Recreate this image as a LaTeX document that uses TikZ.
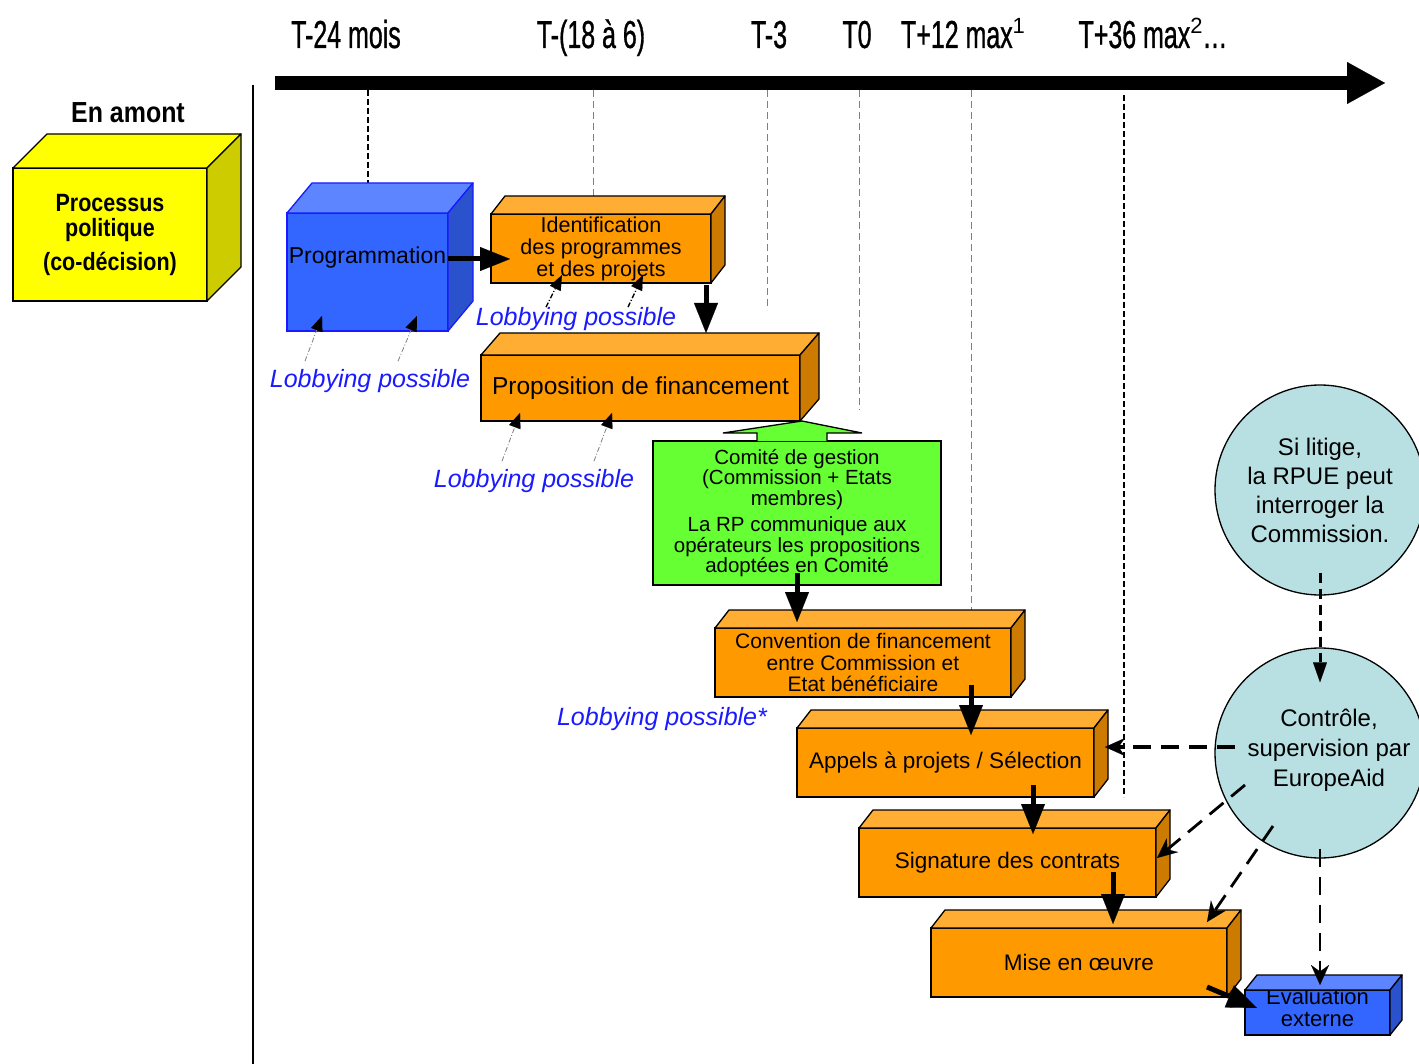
\documentclass[tikz,border=0pt]{standalone}
\usepackage{fontspec}
\setmainfont{Liberation Sans}
\newfontfamily\narrowfont[FakeStretch=0.64,FakeBold=0.8]{Liberation Sans}
\newfontfamily\narrowboldfont[FakeStretch=0.86]{Liberation Sans}
\usetikzlibrary{arrows.meta,calc}
\definecolor{orfront}{HTML}{FF9900}
\definecolor{ortop}{HTML}{FFAD33}
\definecolor{orside}{HTML}{CC7A00}
\definecolor{blfront}{HTML}{3366FF}
\definecolor{bltop}{HTML}{5C85FF}
\definecolor{blside}{HTML}{2952CC}
\definecolor{blborder}{HTML}{1A1AFF}
\definecolor{yfront}{HTML}{FFFF00}
\definecolor{yside}{HTML}{CCCC00}
\definecolor{grn}{HTML}{66FF33}
\definecolor{circfill}{HTML}{B8E0E3}
\definecolor{lobblue}{HTML}{1A1AFF}
\newcommand{\boxfaces}[6]{%
 \filldraw[fill=#4,draw=#6,line width=1.3pt,line join=round] (#1.north west) -- ([shift={(#2,#3)}]#1.north west) -- ([shift={(#2,#3)}]#1.north east) -- (#1.north east) -- cycle;
 \filldraw[fill=#5,draw=#6,line width=1.3pt,line join=round] (#1.north east) -- ([shift={(#2,#3)}]#1.north east) -- ([shift={(#2,#3)}]#1.south east) -- (#1.south east) -- cycle;
}
\tikzset{
 face/.style={draw=black, line width=1.3pt, inner sep=0pt, outer sep=0pt, align=center},
 orbox/.style={face, fill=orfront, font=\fontsize{22.5}{23}\selectfont},
 tl/.style={font=\narrowfont\fontsize{39}{40}\selectfont, inner sep=0pt, anchor=base},
 lobby/.style={text=lobblue, font=\itshape\fontsize{25}{27}\selectfont, inner sep=0pt},
 bigarrow/.style={line width=5pt, -{Triangle[length=30pt,width=24pt,line width=0.1pt]}},
 lobarrow/.style={gray, line width=0.8pt, dash pattern=on 5pt off 2pt on 1pt off 2pt, -{Triangle[length=15pt,width=12pt,color=black,line width=0.1pt]}},
 lobarrowdark/.style={black, line width=1.4pt, dash pattern=on 5pt off 2pt on 1pt off 2pt, -{Triangle[length=15pt,width=12pt,line width=0.1pt]}},
 tick/.style={gray, line width=0.9pt, dash pattern=on 7pt off 4pt},
 tickbold/.style={black, line width=1.8pt, dash pattern=on 6pt off 3pt},
 ctrlarrow/.style={line width=4pt, dash pattern=on 18pt off 10pt, -{Stealth[length=20pt,width=18pt,line width=0.1pt]}},
 circ/.style={circle, draw=black, line width=1.3pt, fill=circfill, minimum size=210pt, inner sep=0pt, align=center, font=\fontsize{24}{29}\selectfont},
}
\begin{document}
\begin{tikzpicture}[x=1pt,y=-1pt]
\useasboundingbox (0,0) rectangle (1419,1064);
\fill[white] (0,0) rectangle (1419,1064);

% timeline
\coordinate (tlstart) at (275,83);
\coordinate (tlend) at (1385,83);
\draw[line width=14pt, -{Triangle[length=38pt,width=42pt,line width=0.1pt]}] (tlstart) -- (tlend);
\node[tl] (t1) at (346,48) {T-24 mois};
\node[tl] (t2) at (591,48) {T-(18 à 6)};
\node[tl] (t3) at (769,48) {T-3};
\node[tl] (t4) at (857,48) {T0};
\node[tl] (t5) at (963,48) {T+12 max\raisebox{14pt}{\rmfamily\fontsize{22}{22}\selectfont 1}};
\node[tl] (t6) at (1153,48) {T+36 max\raisebox{14pt}{\rmfamily\fontsize{22}{22}\selectfont 2}…};

% left separator
\draw[line width=2pt] (253,85) -- (253,1064);
\node[font=\narrowboldfont\bfseries\fontsize{29}{30}\selectfont, inner sep=0pt, anchor=base] (amont) at (128,123) {En amont};

% ticks
\draw[tickbold] (368,90) -- (368,183);
\draw[tick] (593,90) -- (593,196);
\draw[tick] (767,90) -- (767,310);
\draw[tick] (859,90) -- (859,410);
\draw[tick] (971,90) -- (971,610);
\draw[tickbold] (1124,95) -- (1124,797);

% yellow box
\node[face, fill=yfront, minimum width=194pt, minimum height=133pt, font=\narrowboldfont\bfseries\fontsize{25}{25}\selectfont] (proc) at (110,234.5) {Processus\\politique\\[9pt](co-décision)};
\boxfaces{proc}{34}{-34}{yfront}{yside}{black}

% Programmation
\node[face, draw=blborder, fill=blfront, minimum width=161pt, minimum height=118pt,
  label={[yshift=14pt,font=\fontsize{23}{24}\selectfont]center:Programmation}] (prog) at (367.5,272) {};
\boxfaces{prog}{25}{-30}{bltop}{blside}{blborder}

% Identification
\node[orbox, minimum width=220pt, minimum height=69pt, font=\fontsize{21.5}{22}\selectfont] (ident) at (601,248.5) {Identification\\des programmes\\et des projets};
\boxfaces{ident}{14}{-18}{ortop}{orside}{black}

% Proposition
\node[orbox, minimum width=319pt, minimum height=66pt, font=\fontsize{24.5}{26}\selectfont] (prop) at (640.5,388) {Proposition de financement};
\boxfaces{prop}{19}{-22}{ortop}{orside}{black}

% Comite
\node[face, fill=grn, minimum width=288pt, minimum height=144pt, font=\fontsize{20.5}{20.5}\selectfont] (comite) at (797,513) {Comité de gestion\\(Commission + Etats\\membres)\\[6pt]La RP communique aux\\opérateurs les propositions\\adoptées en Comité};
\filldraw[fill=grn, draw=black, line width=1.3pt, line join=miter]
  ($(comite.north)+(-40,0)$) -- ($(comite.north)+(-40,-8)$) -- ($(comite.north)+(-74,-8)$) -- ($(comite.north)+(5,-20)$) -- ($(comite.north)+(65,-8)$) -- ($(comite.north)+(30,-8)$) -- ($(comite.north)+(30,0)$);

% Convention
\node[orbox, minimum width=296pt, minimum height=69pt, font=\fontsize{21}{21.5}\selectfont] (conv) at (863,662.5) {Convention de financement\\entre Commission et\\Etat bénéficiaire};
\boxfaces{conv}{14}{-18}{ortop}{orside}{black}

% Appels
\node[orbox, minimum width=297pt, minimum height=69pt] (appels) at (945.5,762.5) {Appels à projets / Sélection};
\boxfaces{appels}{14}{-18}{ortop}{orside}{black}

% Signature
\node[orbox, minimum width=297pt, minimum height=69pt] (sign) at (1007.5,862.5) {Signature des contrats};
\boxfaces{sign}{14}{-18}{ortop}{orside}{black}

% Mise en oeuvre
\node[orbox, minimum width=296pt, minimum height=69pt] (mise) at (1079,962.5) {Mise en œuvre};
\boxfaces{mise}{14}{-18}{ortop}{orside}{black}

% Evaluation
\node[face, fill=blfront, minimum width=145pt, minimum height=45pt,
  label={[yshift=6pt,align=center,font=\fontsize{22}{22}\selectfont]center:Évaluation\\externe}] (eval) at (1317.5,1012.5) {};
\boxfaces{eval}{12}{-15}{bltop}{blside}{black}

% circles
\node[circ] (litige) at (1320,490) {Si litige,\\la RPUE peut\\interroger la\\Commission.};
\node[circ] (ctrl) at (1320,753) {};
\node[font=\fontsize{24}{30}\selectfont, align=center, inner sep=0pt] (ctrltext) at ($(ctrl.center)+(9,-3)$) {Contrôle,\\supervision par\\EuropeAid};

% lobbying labels
\node[lobby] (lob1) at (576,319) {Lobbying possible};
\node[lobby] (lob2) at (370,381) {Lobbying possible};
\node[lobby] (lob3) at (534,481) {Lobbying possible};
\node[lobby] (lob4) at (662,719) {Lobbying possible*};

% lobbying arrows
\draw[lobarrow] ($(lob2.north)+(-65,-8)$) -- ($(prog.south west)+(35,-15)$);
\draw[lobarrow] ($(lob2.north)+(28,-8)$) -- ($(prog.south west)+(130,-15)$);
\draw[lobarrowdark] ($(lob1.north)+(-30,0)$) -- ($(ident.south west)+(71,-8)$);
\draw[lobarrowdark] ($(lob1.north)+(52,0)$) -- ($(ident.south west)+(152,-8)$);
\draw[lobarrow] ($(lob3.north)+(-32,-8)$) -- ($(prop.south west)+(39,-8)$);
\draw[lobarrow] ($(lob3.north)+(60,-8)$) -- ($(prop.south west)+(131,-8)$);

% main flow arrows
\draw[bigarrow] ($(prog.east)+(0,-13)$) -- ($(ident.west)+(19,10.5)$);
\draw[bigarrow] ($(ident.south east)+(-5,2)$) -- ($(ident.south east |- prop.north)+(-5,-22)$);
\draw[bigarrow] ($(comite.south)+(0,-12)$) -- ($(comite.south |- conv.north)+(0,-6)$);
\draw[bigarrow] ($(conv.south east)+(-40,-12)$) -- ($(conv.south east |- appels.north)+(-40,7)$);
\draw[bigarrow] ($(appels.south east)+(-61,-12)$) -- ($(appels.south east |- sign.north)+(-61,6)$);
\draw[bigarrow] ($(sign.south east)+(-43,-25)$) -- ($(sign.south east |- mise.north)+(-43,-4)$);
\draw[bigarrow] ($(mise.south east)+(-20,-10)$) -- ($(eval.west)+(12,-4.5)$);

% control arrows
\draw[line width=3pt, dash pattern=on 10pt off 6pt, -{Triangle[length=20pt,width=14pt,line width=0.1pt]}] ($(litige.south)+(0,-23)$) -- ($(ctrl.north)+(0,35)$);
\draw[ctrlarrow] ($(ctrl.center)+(-85,-6)$) -- ($(appels.east)+(11,-15.5)$);
\draw[ctrlarrow, line width=2.8pt] ($(ctrl.center)+(-75,32)$) -- ($(sign.east)+(1,-4.5)$);
\draw[ctrlarrow, line width=2.8pt] ($(ctrl.center)+(-47,73)$) -- ($(mise.north east)+(-20,-6)$);
\draw[ctrlarrow, line width=2.8pt] ($(ctrl.south)+(0,-10)$) -- ($(eval.north)+(2.5,-5)$);
\end{tikzpicture}
\end{document}
